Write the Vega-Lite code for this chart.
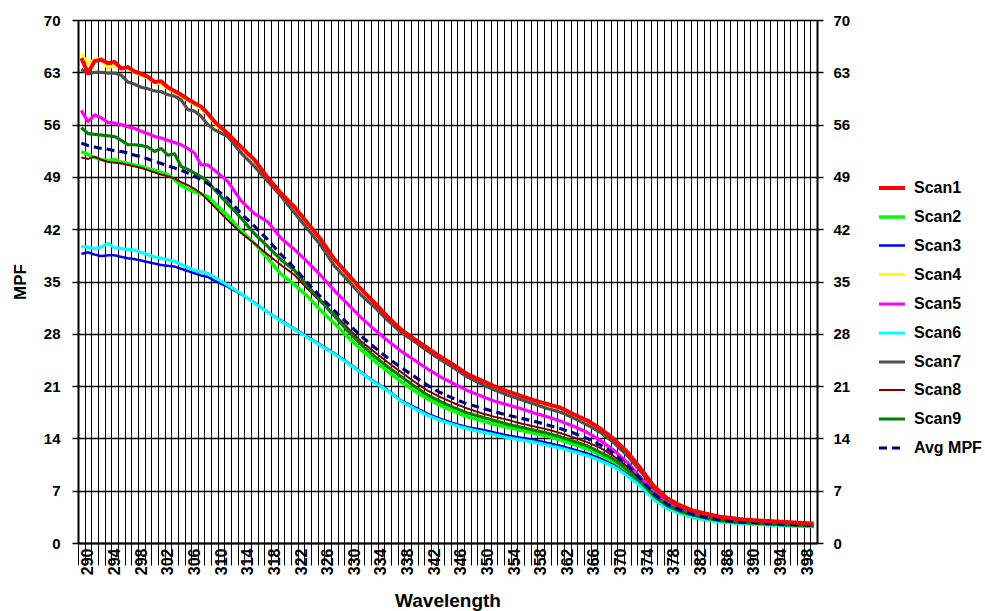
{
"$schema": "https://vega.github.io/schema/vega-lite/v6.json",
"width": 739, "height": 523,
"autosize": "none",
"padding": {"left": 78, "top": 20, "right": 168, "bottom": 68},
"background": "white",
"datasets": {"d": [
{"w":290,"s":"Scan1","v":64.9},{"w":291,"s":"Scan1","v":62.9},{"w":292,"s":"Scan1","v":64.5},{"w":293,"s":"Scan1","v":64.7},{"w":294,"s":"Scan1","v":64.2},{"w":295,"s":"Scan1","v":64.4},{"w":296,"s":"Scan1","v":63.5},{"w":297,"s":"Scan1","v":63.7},{"w":298,"s":"Scan1","v":63.1},{"w":299,"s":"Scan1","v":62.8},{"w":300,"s":"Scan1","v":62.4},{"w":301,"s":"Scan1","v":61.7},{"w":302,"s":"Scan1","v":61.8},{"w":303,"s":"Scan1","v":61.0},{"w":304,"s":"Scan1","v":60.5},{"w":305,"s":"Scan1","v":60.0},{"w":306,"s":"Scan1","v":59.4},{"w":307,"s":"Scan1","v":58.9},{"w":308,"s":"Scan1","v":58.4},{"w":309,"s":"Scan1","v":57.5},{"w":310,"s":"Scan1","v":56.4},{"w":312,"s":"Scan1","v":54.8},{"w":314,"s":"Scan1","v":53.0},{"w":316,"s":"Scan1","v":51.3},{"w":318,"s":"Scan1","v":48.9},{"w":320,"s":"Scan1","v":46.8},{"w":322,"s":"Scan1","v":45.0},{"w":324,"s":"Scan1","v":42.8},{"w":326,"s":"Scan1","v":40.6},{"w":328,"s":"Scan1","v":38.0},{"w":330,"s":"Scan1","v":36.0},{"w":332,"s":"Scan1","v":34.0},{"w":334,"s":"Scan1","v":32.2},{"w":336,"s":"Scan1","v":30.3},{"w":338,"s":"Scan1","v":28.6},{"w":340,"s":"Scan1","v":27.3},{"w":342,"s":"Scan1","v":26.1},{"w":344,"s":"Scan1","v":24.9},{"w":346,"s":"Scan1","v":23.8},{"w":348,"s":"Scan1","v":22.6},{"w":350,"s":"Scan1","v":21.8},{"w":352,"s":"Scan1","v":21.0},{"w":354,"s":"Scan1","v":20.3},{"w":356,"s":"Scan1","v":19.7},{"w":358,"s":"Scan1","v":19.1},{"w":360,"s":"Scan1","v":18.6},{"w":362,"s":"Scan1","v":18.1},{"w":364,"s":"Scan1","v":17.2},{"w":366,"s":"Scan1","v":16.4},{"w":368,"s":"Scan1","v":15.3},{"w":370,"s":"Scan1","v":13.9},{"w":372,"s":"Scan1","v":12.2},{"w":374,"s":"Scan1","v":10.0},{"w":376,"s":"Scan1","v":7.6},{"w":378,"s":"Scan1","v":6.0},{"w":380,"s":"Scan1","v":5.0},{"w":382,"s":"Scan1","v":4.3},{"w":384,"s":"Scan1","v":3.9},{"w":386,"s":"Scan1","v":3.5},{"w":388,"s":"Scan1","v":3.3},{"w":390,"s":"Scan1","v":3.1},{"w":392,"s":"Scan1","v":3.0},{"w":394,"s":"Scan1","v":2.9},{"w":396,"s":"Scan1","v":2.8},{"w":398,"s":"Scan1","v":2.7},{"w":400,"s":"Scan1","v":2.6},
{"w":290,"s":"Scan2","v":52.4},{"w":291,"s":"Scan2","v":52.0},{"w":292,"s":"Scan2","v":51.6},{"w":293,"s":"Scan2","v":51.3},{"w":294,"s":"Scan2","v":51.2},{"w":295,"s":"Scan2","v":51.3},{"w":296,"s":"Scan2","v":51.0},{"w":297,"s":"Scan2","v":50.8},{"w":298,"s":"Scan2","v":50.6},{"w":299,"s":"Scan2","v":50.4},{"w":300,"s":"Scan2","v":50.1},{"w":301,"s":"Scan2","v":49.9},{"w":302,"s":"Scan2","v":49.6},{"w":303,"s":"Scan2","v":49.3},{"w":304,"s":"Scan2","v":48.6},{"w":305,"s":"Scan2","v":47.9},{"w":306,"s":"Scan2","v":47.4},{"w":307,"s":"Scan2","v":47.0},{"w":308,"s":"Scan2","v":46.7},{"w":309,"s":"Scan2","v":46.4},{"w":310,"s":"Scan2","v":45.5},{"w":312,"s":"Scan2","v":43.8},{"w":314,"s":"Scan2","v":41.8},{"w":316,"s":"Scan2","v":40.1},{"w":318,"s":"Scan2","v":38.1},{"w":320,"s":"Scan2","v":36.0},{"w":322,"s":"Scan2","v":34.6},{"w":324,"s":"Scan2","v":33.0},{"w":326,"s":"Scan2","v":31.1},{"w":328,"s":"Scan2","v":29.4},{"w":330,"s":"Scan2","v":27.6},{"w":332,"s":"Scan2","v":25.9},{"w":334,"s":"Scan2","v":24.4},{"w":336,"s":"Scan2","v":23.0},{"w":338,"s":"Scan2","v":21.6},{"w":340,"s":"Scan2","v":20.4},{"w":342,"s":"Scan2","v":19.3},{"w":344,"s":"Scan2","v":18.4},{"w":346,"s":"Scan2","v":17.6},{"w":348,"s":"Scan2","v":16.9},{"w":350,"s":"Scan2","v":16.4},{"w":352,"s":"Scan2","v":15.9},{"w":354,"s":"Scan2","v":15.5},{"w":356,"s":"Scan2","v":15.1},{"w":358,"s":"Scan2","v":14.7},{"w":360,"s":"Scan2","v":14.3},{"w":362,"s":"Scan2","v":13.8},{"w":364,"s":"Scan2","v":13.2},{"w":366,"s":"Scan2","v":12.6},{"w":368,"s":"Scan2","v":11.8},{"w":370,"s":"Scan2","v":10.8},{"w":372,"s":"Scan2","v":9.5},{"w":374,"s":"Scan2","v":7.9},{"w":376,"s":"Scan2","v":6.0},{"w":378,"s":"Scan2","v":4.7},{"w":380,"s":"Scan2","v":4.0},{"w":382,"s":"Scan2","v":3.4},{"w":384,"s":"Scan2","v":3.1},{"w":386,"s":"Scan2","v":2.85},{"w":388,"s":"Scan2","v":2.7},{"w":390,"s":"Scan2","v":2.6},{"w":392,"s":"Scan2","v":2.5},{"w":394,"s":"Scan2","v":2.4},{"w":396,"s":"Scan2","v":2.3},{"w":398,"s":"Scan2","v":2.25},{"w":400,"s":"Scan2","v":2.2},
{"w":290,"s":"Scan3","v":38.7},{"w":291,"s":"Scan3","v":38.9},{"w":292,"s":"Scan3","v":38.6},{"w":293,"s":"Scan3","v":38.4},{"w":294,"s":"Scan3","v":38.5},{"w":295,"s":"Scan3","v":38.5},{"w":296,"s":"Scan3","v":38.3},{"w":297,"s":"Scan3","v":38.1},{"w":298,"s":"Scan3","v":38.0},{"w":299,"s":"Scan3","v":37.8},{"w":300,"s":"Scan3","v":37.6},{"w":301,"s":"Scan3","v":37.4},{"w":302,"s":"Scan3","v":37.2},{"w":303,"s":"Scan3","v":37.1},{"w":304,"s":"Scan3","v":37.0},{"w":305,"s":"Scan3","v":36.7},{"w":306,"s":"Scan3","v":36.4},{"w":307,"s":"Scan3","v":36.1},{"w":308,"s":"Scan3","v":35.8},{"w":309,"s":"Scan3","v":35.6},{"w":310,"s":"Scan3","v":35.1},{"w":312,"s":"Scan3","v":34.3},{"w":314,"s":"Scan3","v":33.3},{"w":316,"s":"Scan3","v":32.2},{"w":318,"s":"Scan3","v":30.9},{"w":320,"s":"Scan3","v":29.8},{"w":322,"s":"Scan3","v":28.7},{"w":324,"s":"Scan3","v":27.6},{"w":326,"s":"Scan3","v":26.5},{"w":328,"s":"Scan3","v":25.4},{"w":330,"s":"Scan3","v":24.2},{"w":332,"s":"Scan3","v":22.9},{"w":334,"s":"Scan3","v":21.6},{"w":336,"s":"Scan3","v":20.5},{"w":338,"s":"Scan3","v":19.1},{"w":340,"s":"Scan3","v":18.2},{"w":342,"s":"Scan3","v":17.3},{"w":344,"s":"Scan3","v":16.6},{"w":346,"s":"Scan3","v":16.0},{"w":348,"s":"Scan3","v":15.5},{"w":350,"s":"Scan3","v":15.2},{"w":352,"s":"Scan3","v":14.8},{"w":354,"s":"Scan3","v":14.4},{"w":356,"s":"Scan3","v":14.1},{"w":358,"s":"Scan3","v":13.8},{"w":360,"s":"Scan3","v":13.4},{"w":362,"s":"Scan3","v":13.0},{"w":364,"s":"Scan3","v":12.5},{"w":366,"s":"Scan3","v":12.0},{"w":368,"s":"Scan3","v":11.3},{"w":370,"s":"Scan3","v":10.4},{"w":372,"s":"Scan3","v":9.2},{"w":374,"s":"Scan3","v":7.7},{"w":376,"s":"Scan3","v":5.9},{"w":378,"s":"Scan3","v":4.7},{"w":380,"s":"Scan3","v":4.0},{"w":382,"s":"Scan3","v":3.5},{"w":384,"s":"Scan3","v":3.15},{"w":386,"s":"Scan3","v":2.9},{"w":388,"s":"Scan3","v":2.75},{"w":390,"s":"Scan3","v":2.65},{"w":392,"s":"Scan3","v":2.55},{"w":394,"s":"Scan3","v":2.45},{"w":396,"s":"Scan3","v":2.4},{"w":398,"s":"Scan3","v":2.3},{"w":400,"s":"Scan3","v":2.25},
{"w":290,"s":"Scan4","v":65.5},{"w":291,"s":"Scan4","v":64.2},{"w":292,"s":"Scan4","v":64.7},{"w":293,"s":"Scan4","v":64.9},{"w":294,"s":"Scan4","v":63.5},{"w":295,"s":"Scan4","v":64.0},{"w":296,"s":"Scan4","v":63.6},{"w":297,"s":"Scan4","v":63.5},{"w":298,"s":"Scan4","v":63.0},{"w":299,"s":"Scan4","v":62.6},{"w":300,"s":"Scan4","v":62.2},{"w":301,"s":"Scan4","v":61.6},{"w":302,"s":"Scan4","v":61.5},{"w":303,"s":"Scan4","v":60.8},{"w":304,"s":"Scan4","v":60.3},{"w":305,"s":"Scan4","v":59.8},{"w":306,"s":"Scan4","v":59.2},{"w":307,"s":"Scan4","v":58.7},{"w":308,"s":"Scan4","v":58.1},{"w":309,"s":"Scan4","v":57.3},{"w":310,"s":"Scan4","v":56.2},{"w":312,"s":"Scan4","v":54.6},{"w":314,"s":"Scan4","v":52.8},{"w":316,"s":"Scan4","v":51.0},{"w":318,"s":"Scan4","v":48.7},{"w":320,"s":"Scan4","v":46.6},{"w":322,"s":"Scan4","v":44.8},{"w":324,"s":"Scan4","v":42.6},{"w":326,"s":"Scan4","v":40.4},{"w":328,"s":"Scan4","v":37.8},{"w":330,"s":"Scan4","v":35.8},{"w":332,"s":"Scan4","v":33.8},{"w":334,"s":"Scan4","v":32.0},{"w":336,"s":"Scan4","v":30.1},{"w":338,"s":"Scan4","v":28.4},{"w":340,"s":"Scan4","v":27.1},{"w":342,"s":"Scan4","v":25.9},{"w":344,"s":"Scan4","v":24.7},{"w":346,"s":"Scan4","v":23.6},{"w":348,"s":"Scan4","v":22.5},{"w":350,"s":"Scan4","v":21.7},{"w":352,"s":"Scan4","v":20.9},{"w":354,"s":"Scan4","v":20.2},{"w":356,"s":"Scan4","v":19.6},{"w":358,"s":"Scan4","v":19.0},{"w":360,"s":"Scan4","v":18.5},{"w":362,"s":"Scan4","v":18.0},{"w":364,"s":"Scan4","v":17.1},{"w":366,"s":"Scan4","v":16.3},{"w":368,"s":"Scan4","v":15.2},{"w":370,"s":"Scan4","v":13.8},{"w":372,"s":"Scan4","v":12.1},{"w":374,"s":"Scan4","v":9.9},{"w":376,"s":"Scan4","v":7.5},{"w":378,"s":"Scan4","v":5.9},{"w":380,"s":"Scan4","v":4.95},{"w":382,"s":"Scan4","v":4.3},{"w":384,"s":"Scan4","v":3.9},{"w":386,"s":"Scan4","v":3.5},{"w":388,"s":"Scan4","v":3.3},{"w":390,"s":"Scan4","v":3.1},{"w":392,"s":"Scan4","v":3.0},{"w":394,"s":"Scan4","v":2.9},{"w":396,"s":"Scan4","v":2.8},{"w":398,"s":"Scan4","v":2.7},{"w":400,"s":"Scan4","v":2.6},
{"w":290,"s":"Scan5","v":57.9},{"w":291,"s":"Scan5","v":56.4},{"w":292,"s":"Scan5","v":57.3},{"w":293,"s":"Scan5","v":56.9},{"w":294,"s":"Scan5","v":56.3},{"w":295,"s":"Scan5","v":56.2},{"w":296,"s":"Scan5","v":56.0},{"w":297,"s":"Scan5","v":55.7},{"w":298,"s":"Scan5","v":55.5},{"w":299,"s":"Scan5","v":55.1},{"w":300,"s":"Scan5","v":54.8},{"w":301,"s":"Scan5","v":54.4},{"w":302,"s":"Scan5","v":54.2},{"w":303,"s":"Scan5","v":53.9},{"w":304,"s":"Scan5","v":53.6},{"w":305,"s":"Scan5","v":53.3},{"w":306,"s":"Scan5","v":52.8},{"w":307,"s":"Scan5","v":52.2},{"w":308,"s":"Scan5","v":50.6},{"w":309,"s":"Scan5","v":50.6},{"w":310,"s":"Scan5","v":49.9},{"w":312,"s":"Scan5","v":48.4},{"w":314,"s":"Scan5","v":45.8},{"w":316,"s":"Scan5","v":44.1},{"w":318,"s":"Scan5","v":43.0},{"w":320,"s":"Scan5","v":40.8},{"w":322,"s":"Scan5","v":39.3},{"w":324,"s":"Scan5","v":37.6},{"w":326,"s":"Scan5","v":35.8},{"w":328,"s":"Scan5","v":33.8},{"w":330,"s":"Scan5","v":32.0},{"w":332,"s":"Scan5","v":30.2},{"w":334,"s":"Scan5","v":28.6},{"w":336,"s":"Scan5","v":27.1},{"w":338,"s":"Scan5","v":25.7},{"w":340,"s":"Scan5","v":24.5},{"w":342,"s":"Scan5","v":23.3},{"w":344,"s":"Scan5","v":22.2},{"w":346,"s":"Scan5","v":21.3},{"w":348,"s":"Scan5","v":20.4},{"w":350,"s":"Scan5","v":19.7},{"w":352,"s":"Scan5","v":19.0},{"w":354,"s":"Scan5","v":18.5},{"w":356,"s":"Scan5","v":18.0},{"w":358,"s":"Scan5","v":17.4},{"w":360,"s":"Scan5","v":16.9},{"w":362,"s":"Scan5","v":16.3},{"w":364,"s":"Scan5","v":15.6},{"w":366,"s":"Scan5","v":14.8},{"w":368,"s":"Scan5","v":13.7},{"w":370,"s":"Scan5","v":12.4},{"w":372,"s":"Scan5","v":10.8},{"w":374,"s":"Scan5","v":8.8},{"w":376,"s":"Scan5","v":6.8},{"w":378,"s":"Scan5","v":5.4},{"w":380,"s":"Scan5","v":4.5},{"w":382,"s":"Scan5","v":4.0},{"w":384,"s":"Scan5","v":3.6},{"w":386,"s":"Scan5","v":3.3},{"w":388,"s":"Scan5","v":3.1},{"w":390,"s":"Scan5","v":2.9},{"w":392,"s":"Scan5","v":2.8},{"w":394,"s":"Scan5","v":2.7},{"w":396,"s":"Scan5","v":2.6},{"w":398,"s":"Scan5","v":2.5},{"w":400,"s":"Scan5","v":2.4},
{"w":290,"s":"Scan6","v":39.7},{"w":291,"s":"Scan6","v":39.6},{"w":292,"s":"Scan6","v":39.4},{"w":293,"s":"Scan6","v":39.6},{"w":294,"s":"Scan6","v":40.1},{"w":295,"s":"Scan6","v":39.5},{"w":296,"s":"Scan6","v":39.4},{"w":297,"s":"Scan6","v":39.3},{"w":298,"s":"Scan6","v":39.2},{"w":299,"s":"Scan6","v":38.9},{"w":300,"s":"Scan6","v":38.6},{"w":301,"s":"Scan6","v":38.3},{"w":302,"s":"Scan6","v":38.1},{"w":303,"s":"Scan6","v":37.9},{"w":304,"s":"Scan6","v":37.7},{"w":305,"s":"Scan6","v":37.3},{"w":306,"s":"Scan6","v":36.9},{"w":307,"s":"Scan6","v":36.5},{"w":308,"s":"Scan6","v":36.3},{"w":309,"s":"Scan6","v":36.1},{"w":310,"s":"Scan6","v":35.6},{"w":312,"s":"Scan6","v":34.5},{"w":314,"s":"Scan6","v":33.4},{"w":316,"s":"Scan6","v":32.1},{"w":318,"s":"Scan6","v":30.9},{"w":320,"s":"Scan6","v":29.7},{"w":322,"s":"Scan6","v":28.6},{"w":324,"s":"Scan6","v":27.5},{"w":326,"s":"Scan6","v":26.4},{"w":328,"s":"Scan6","v":25.3},{"w":330,"s":"Scan6","v":24.1},{"w":332,"s":"Scan6","v":22.8},{"w":334,"s":"Scan6","v":21.5},{"w":336,"s":"Scan6","v":20.4},{"w":338,"s":"Scan6","v":19.0},{"w":340,"s":"Scan6","v":18.0},{"w":342,"s":"Scan6","v":17.1},{"w":344,"s":"Scan6","v":16.4},{"w":346,"s":"Scan6","v":15.8},{"w":348,"s":"Scan6","v":15.3},{"w":350,"s":"Scan6","v":14.9},{"w":352,"s":"Scan6","v":14.5},{"w":354,"s":"Scan6","v":14.1},{"w":356,"s":"Scan6","v":13.8},{"w":358,"s":"Scan6","v":13.5},{"w":360,"s":"Scan6","v":13.1},{"w":362,"s":"Scan6","v":12.7},{"w":364,"s":"Scan6","v":12.2},{"w":366,"s":"Scan6","v":11.7},{"w":368,"s":"Scan6","v":11.0},{"w":370,"s":"Scan6","v":10.2},{"w":372,"s":"Scan6","v":9.0},{"w":374,"s":"Scan6","v":7.6},{"w":376,"s":"Scan6","v":5.8},{"w":378,"s":"Scan6","v":4.6},{"w":380,"s":"Scan6","v":3.95},{"w":382,"s":"Scan6","v":3.45},{"w":384,"s":"Scan6","v":3.1},{"w":386,"s":"Scan6","v":2.85},{"w":388,"s":"Scan6","v":2.7},{"w":390,"s":"Scan6","v":2.6},{"w":392,"s":"Scan6","v":2.5},{"w":394,"s":"Scan6","v":2.4},{"w":396,"s":"Scan6","v":2.35},{"w":398,"s":"Scan6","v":2.3},{"w":400,"s":"Scan6","v":2.25},
{"w":290,"s":"Scan7","v":63.4},{"w":291,"s":"Scan7","v":62.8},{"w":292,"s":"Scan7","v":63.0},{"w":293,"s":"Scan7","v":63.0},{"w":294,"s":"Scan7","v":62.9},{"w":295,"s":"Scan7","v":62.9},{"w":296,"s":"Scan7","v":62.6},{"w":297,"s":"Scan7","v":61.7},{"w":298,"s":"Scan7","v":61.4},{"w":299,"s":"Scan7","v":61.0},{"w":300,"s":"Scan7","v":60.8},{"w":301,"s":"Scan7","v":60.5},{"w":302,"s":"Scan7","v":60.4},{"w":303,"s":"Scan7","v":60.0},{"w":304,"s":"Scan7","v":59.8},{"w":305,"s":"Scan7","v":59.3},{"w":306,"s":"Scan7","v":58.0},{"w":307,"s":"Scan7","v":57.8},{"w":308,"s":"Scan7","v":57.1},{"w":309,"s":"Scan7","v":56.0},{"w":310,"s":"Scan7","v":55.3},{"w":312,"s":"Scan7","v":54.4},{"w":314,"s":"Scan7","v":52.2},{"w":316,"s":"Scan7","v":50.4},{"w":318,"s":"Scan7","v":48.4},{"w":320,"s":"Scan7","v":46.4},{"w":322,"s":"Scan7","v":44.2},{"w":324,"s":"Scan7","v":42.0},{"w":326,"s":"Scan7","v":39.8},{"w":328,"s":"Scan7","v":37.1},{"w":330,"s":"Scan7","v":35.2},{"w":332,"s":"Scan7","v":33.2},{"w":334,"s":"Scan7","v":31.6},{"w":336,"s":"Scan7","v":29.8},{"w":338,"s":"Scan7","v":28.2},{"w":340,"s":"Scan7","v":27.0},{"w":342,"s":"Scan7","v":25.7},{"w":344,"s":"Scan7","v":24.5},{"w":346,"s":"Scan7","v":23.4},{"w":348,"s":"Scan7","v":22.2},{"w":350,"s":"Scan7","v":21.3},{"w":352,"s":"Scan7","v":20.5},{"w":354,"s":"Scan7","v":19.8},{"w":356,"s":"Scan7","v":19.2},{"w":358,"s":"Scan7","v":18.6},{"w":360,"s":"Scan7","v":18.0},{"w":362,"s":"Scan7","v":17.5},{"w":364,"s":"Scan7","v":16.7},{"w":366,"s":"Scan7","v":15.8},{"w":368,"s":"Scan7","v":14.8},{"w":370,"s":"Scan7","v":13.4},{"w":372,"s":"Scan7","v":11.7},{"w":374,"s":"Scan7","v":9.6},{"w":376,"s":"Scan7","v":7.3},{"w":378,"s":"Scan7","v":5.8},{"w":380,"s":"Scan7","v":4.8},{"w":382,"s":"Scan7","v":4.2},{"w":384,"s":"Scan7","v":3.8},{"w":386,"s":"Scan7","v":3.4},{"w":388,"s":"Scan7","v":3.2},{"w":390,"s":"Scan7","v":3.0},{"w":392,"s":"Scan7","v":2.9},{"w":394,"s":"Scan7","v":2.8},{"w":396,"s":"Scan7","v":2.7},{"w":398,"s":"Scan7","v":2.6},{"w":400,"s":"Scan7","v":2.5},
{"w":290,"s":"Scan8","v":51.6},{"w":291,"s":"Scan8","v":51.4},{"w":292,"s":"Scan8","v":51.7},{"w":293,"s":"Scan8","v":51.3},{"w":294,"s":"Scan8","v":51.0},{"w":295,"s":"Scan8","v":50.9},{"w":296,"s":"Scan8","v":50.8},{"w":297,"s":"Scan8","v":50.6},{"w":298,"s":"Scan8","v":50.4},{"w":299,"s":"Scan8","v":50.2},{"w":300,"s":"Scan8","v":49.9},{"w":301,"s":"Scan8","v":49.6},{"w":302,"s":"Scan8","v":49.3},{"w":303,"s":"Scan8","v":49.1},{"w":304,"s":"Scan8","v":48.8},{"w":305,"s":"Scan8","v":48.3},{"w":306,"s":"Scan8","v":47.9},{"w":307,"s":"Scan8","v":47.4},{"w":308,"s":"Scan8","v":46.8},{"w":309,"s":"Scan8","v":45.9},{"w":310,"s":"Scan8","v":45.0},{"w":312,"s":"Scan8","v":43.2},{"w":314,"s":"Scan8","v":41.5},{"w":316,"s":"Scan8","v":40.1},{"w":318,"s":"Scan8","v":38.6},{"w":320,"s":"Scan8","v":37.2},{"w":322,"s":"Scan8","v":35.9},{"w":324,"s":"Scan8","v":34.0},{"w":326,"s":"Scan8","v":32.2},{"w":328,"s":"Scan8","v":30.6},{"w":330,"s":"Scan8","v":28.8},{"w":332,"s":"Scan8","v":27.0},{"w":334,"s":"Scan8","v":25.6},{"w":336,"s":"Scan8","v":24.2},{"w":338,"s":"Scan8","v":22.9},{"w":340,"s":"Scan8","v":21.6},{"w":342,"s":"Scan8","v":20.4},{"w":344,"s":"Scan8","v":19.5},{"w":346,"s":"Scan8","v":18.7},{"w":348,"s":"Scan8","v":18.0},{"w":350,"s":"Scan8","v":17.4},{"w":352,"s":"Scan8","v":16.9},{"w":354,"s":"Scan8","v":16.5},{"w":356,"s":"Scan8","v":16.0},{"w":358,"s":"Scan8","v":15.6},{"w":360,"s":"Scan8","v":15.2},{"w":362,"s":"Scan8","v":14.7},{"w":364,"s":"Scan8","v":14.1},{"w":366,"s":"Scan8","v":13.5},{"w":368,"s":"Scan8","v":12.7},{"w":370,"s":"Scan8","v":11.6},{"w":372,"s":"Scan8","v":10.2},{"w":374,"s":"Scan8","v":8.4},{"w":376,"s":"Scan8","v":6.5},{"w":378,"s":"Scan8","v":5.1},{"w":380,"s":"Scan8","v":4.3},{"w":382,"s":"Scan8","v":3.7},{"w":384,"s":"Scan8","v":3.3},{"w":386,"s":"Scan8","v":3.0},{"w":388,"s":"Scan8","v":2.85},{"w":390,"s":"Scan8","v":2.75},{"w":392,"s":"Scan8","v":2.65},{"w":394,"s":"Scan8","v":2.55},{"w":396,"s":"Scan8","v":2.45},{"w":398,"s":"Scan8","v":2.4},{"w":400,"s":"Scan8","v":2.35},
{"w":290,"s":"Scan9","v":55.6},{"w":291,"s":"Scan9","v":54.8},{"w":292,"s":"Scan9","v":54.7},{"w":293,"s":"Scan9","v":54.6},{"w":294,"s":"Scan9","v":54.5},{"w":295,"s":"Scan9","v":54.4},{"w":296,"s":"Scan9","v":53.9},{"w":297,"s":"Scan9","v":53.3},{"w":298,"s":"Scan9","v":53.3},{"w":299,"s":"Scan9","v":53.2},{"w":300,"s":"Scan9","v":53.0},{"w":301,"s":"Scan9","v":52.4},{"w":302,"s":"Scan9","v":52.8},{"w":303,"s":"Scan9","v":51.9},{"w":304,"s":"Scan9","v":52.1},{"w":305,"s":"Scan9","v":50.4},{"w":306,"s":"Scan9","v":50.0},{"w":307,"s":"Scan9","v":49.5},{"w":308,"s":"Scan9","v":49.0},{"w":309,"s":"Scan9","v":48.4},{"w":310,"s":"Scan9","v":47.3},{"w":312,"s":"Scan9","v":45.4},{"w":314,"s":"Scan9","v":43.5},{"w":316,"s":"Scan9","v":41.4},{"w":318,"s":"Scan9","v":39.7},{"w":320,"s":"Scan9","v":37.9},{"w":322,"s":"Scan9","v":36.5},{"w":324,"s":"Scan9","v":34.4},{"w":326,"s":"Scan9","v":32.4},{"w":328,"s":"Scan9","v":30.4},{"w":330,"s":"Scan9","v":28.4},{"w":332,"s":"Scan9","v":26.6},{"w":334,"s":"Scan9","v":25.0},{"w":336,"s":"Scan9","v":23.6},{"w":338,"s":"Scan9","v":22.3},{"w":340,"s":"Scan9","v":21.0},{"w":342,"s":"Scan9","v":19.8},{"w":344,"s":"Scan9","v":18.9},{"w":346,"s":"Scan9","v":18.1},{"w":348,"s":"Scan9","v":17.4},{"w":350,"s":"Scan9","v":16.9},{"w":352,"s":"Scan9","v":16.4},{"w":354,"s":"Scan9","v":15.9},{"w":356,"s":"Scan9","v":15.5},{"w":358,"s":"Scan9","v":15.1},{"w":360,"s":"Scan9","v":14.7},{"w":362,"s":"Scan9","v":14.2},{"w":364,"s":"Scan9","v":13.6},{"w":366,"s":"Scan9","v":13.0},{"w":368,"s":"Scan9","v":12.1},{"w":370,"s":"Scan9","v":11.2},{"w":372,"s":"Scan9","v":9.8},{"w":374,"s":"Scan9","v":8.2},{"w":376,"s":"Scan9","v":6.3},{"w":378,"s":"Scan9","v":5.0},{"w":380,"s":"Scan9","v":4.2},{"w":382,"s":"Scan9","v":3.7},{"w":384,"s":"Scan9","v":3.3},{"w":386,"s":"Scan9","v":3.0},{"w":388,"s":"Scan9","v":2.8},{"w":390,"s":"Scan9","v":2.7},{"w":392,"s":"Scan9","v":2.6},{"w":394,"s":"Scan9","v":2.5},{"w":396,"s":"Scan9","v":2.4},{"w":398,"s":"Scan9","v":2.35},{"w":400,"s":"Scan9","v":2.3},
{"w":290,"s":"Avg MPF","v":53.5},{"w":291,"s":"Avg MPF","v":53.2},{"w":292,"s":"Avg MPF","v":53.0},{"w":293,"s":"Avg MPF","v":52.8},{"w":294,"s":"Avg MPF","v":52.7},{"w":295,"s":"Avg MPF","v":52.5},{"w":296,"s":"Avg MPF","v":52.4},{"w":297,"s":"Avg MPF","v":52.2},{"w":298,"s":"Avg MPF","v":51.9},{"w":299,"s":"Avg MPF","v":51.7},{"w":300,"s":"Avg MPF","v":51.4},{"w":301,"s":"Avg MPF","v":51.1},{"w":302,"s":"Avg MPF","v":50.8},{"w":303,"s":"Avg MPF","v":50.5},{"w":304,"s":"Avg MPF","v":50.2},{"w":305,"s":"Avg MPF","v":49.9},{"w":306,"s":"Avg MPF","v":49.5},{"w":307,"s":"Avg MPF","v":49.1},{"w":308,"s":"Avg MPF","v":48.6},{"w":309,"s":"Avg MPF","v":48.1},{"w":310,"s":"Avg MPF","v":47.5},{"w":312,"s":"Avg MPF","v":46.1},{"w":314,"s":"Avg MPF","v":44.1},{"w":316,"s":"Avg MPF","v":42.4},{"w":318,"s":"Avg MPF","v":40.6},{"w":320,"s":"Avg MPF","v":38.6},{"w":322,"s":"Avg MPF","v":36.8},{"w":324,"s":"Avg MPF","v":34.8},{"w":326,"s":"Avg MPF","v":32.9},{"w":328,"s":"Avg MPF","v":31.1},{"w":330,"s":"Avg MPF","v":29.4},{"w":332,"s":"Avg MPF","v":27.7},{"w":334,"s":"Avg MPF","v":26.2},{"w":336,"s":"Avg MPF","v":24.8},{"w":338,"s":"Avg MPF","v":23.5},{"w":340,"s":"Avg MPF","v":22.3},{"w":342,"s":"Avg MPF","v":21.1},{"w":344,"s":"Avg MPF","v":20.1},{"w":346,"s":"Avg MPF","v":19.3},{"w":348,"s":"Avg MPF","v":18.6},{"w":350,"s":"Avg MPF","v":18.1},{"w":352,"s":"Avg MPF","v":17.6},{"w":354,"s":"Avg MPF","v":17.1},{"w":356,"s":"Avg MPF","v":16.7},{"w":358,"s":"Avg MPF","v":16.3},{"w":360,"s":"Avg MPF","v":15.8},{"w":362,"s":"Avg MPF","v":15.3},{"w":364,"s":"Avg MPF","v":14.7},{"w":366,"s":"Avg MPF","v":14.0},{"w":368,"s":"Avg MPF","v":13.1},{"w":370,"s":"Avg MPF","v":12.0},{"w":372,"s":"Avg MPF","v":10.5},{"w":374,"s":"Avg MPF","v":8.6},{"w":376,"s":"Avg MPF","v":6.6},{"w":378,"s":"Avg MPF","v":5.2},{"w":380,"s":"Avg MPF","v":4.4},{"w":382,"s":"Avg MPF","v":3.8},{"w":384,"s":"Avg MPF","v":3.4},{"w":386,"s":"Avg MPF","v":3.1},{"w":388,"s":"Avg MPF","v":2.9},{"w":390,"s":"Avg MPF","v":2.8},{"w":392,"s":"Avg MPF","v":2.7},{"w":394,"s":"Avg MPF","v":2.6},{"w":396,"s":"Avg MPF","v":2.5},{"w":398,"s":"Avg MPF","v":2.45},{"w":400,"s":"Avg MPF","v":2.4}
]},
"data": {"name": "d"},
"encoding": {
  "x": {"field": "w", "type": "quantitative",
    "scale": {"domain": [289.5, 400.5], "nice": false, "zero": false},
    "axis": {"title": "Wavelength", "tickCount": 111,
      "labelExpr": "(datum.value - 290) % 4 == 0 ? datum.label : ''",
      "labelAngle": 270, "labelAlign": "right", "labelBaseline": "middle",
      "labelOffset": 10, "tickOffset": -3.33, "labelPadding": -17,
      "labelFlush": false, "labelOverlap": false, "labelBound": false,
      "labelFont": "Liberation Sans", "labelFontWeight": "bold", "labelFontSize": 16, "labelColor": "black",
      "tickColor": "black", "tickSize": 22, "tickWidth": 1,
      "grid": true, "gridColor": "black", "gridWidth": 1, "gridOpacity": 1,
      "domainColor": "black", "domainWidth": 2,
      "titleFont": "Liberation Sans", "titleFontWeight": "bold", "titleFontSize": 19, "titleColor": "black", "titlePadding": 17}},
  "color": {"field": "s", "type": "nominal",
    "scale": {"domain": ["Scan1","Scan2","Scan3","Scan4","Scan5","Scan6","Scan7","Scan8","Scan9","Avg MPF"],
      "range": ["#FF0000","#00FF00","#0000FF","#FFFF00","#FF00FF","#00FFFF","#505050","#800000","#008000","#000080"]},
    "legend": {"title": null}},
  "strokeDash": {"field": "s", "type": "nominal",
    "scale": {"domain": ["Scan1","Scan2","Scan3","Scan4","Scan5","Scan6","Scan7","Scan8","Scan9","Avg MPF"],
      "range": [[1,0],[1,0],[1,0],[1,0],[1,0],[1,0],[1,0],[1,0],[1,0],[8,5]]},
    "legend": {"title": null}},
  "strokeWidth": {"field": "s", "type": "nominal",
    "scale": {"type": "ordinal", "domain": ["Scan1","Scan2","Scan3","Scan4","Scan5","Scan6","Scan7","Scan8","Scan9","Avg MPF"],
      "range": [4,3.5,2.5,3,3.2,3.2,3.2,2,3.2,3.2]},
    "legend": {"title": null}}
},
"layer": [
  {"transform": [{"filter": "datum.s != 'Scan1'"}],
   "mark": {"type": "line", "strokeJoin": "round"},
   "encoding": {"y": {"field": "v", "type": "quantitative",
     "scale": {"domain": [0, 70], "nice": false},
     "axis": {"orient": "left", "title": "MPF", "values": [0,7,14,21,28,35,42,49,56,63,70],
       "grid": true, "gridColor": "black", "gridWidth": 1.5, "gridOpacity": 1,
       "tickColor": "black", "tickSize": 6, "tickWidth": 1.5, "domainColor": "black", "domainWidth": 2,
       "labelPadding": 12, "labelFont": "Liberation Sans", "labelFontWeight": "bold", "labelFontSize": 15, "labelColor": "black",
       "titleFont": "Liberation Sans", "titleFontWeight": "bold", "titleFontSize": 17, "titleColor": "black", "titlePadding": 14}}}},
  {"transform": [{"filter": "datum.s == 'Scan1'"}],
   "mark": {"type": "line", "strokeJoin": "round"},
   "encoding": {"y": {"field": "v", "type": "quantitative",
     "scale": {"domain": [0, 70], "nice": false},
     "axis": {"orient": "right", "title": null, "values": [0,7,14,21,28,35,42,49,56,63,70],
       "grid": false, "tickColor": "black", "tickSize": 6, "tickWidth": 1.5, "domainColor": "black", "domainWidth": 2,
       "labelPadding": 10, "labelFont": "Liberation Sans", "labelFontWeight": "bold", "labelFontSize": 15, "labelColor": "black"}}}}
],
"resolve": {"scale": {"y": "independent"}},
"config": {"view": {"stroke": null}, "font": "Liberation Sans",
  "legend": {"orient": "none", "legendX": 799, "legendY": 153, "symbolType": "stroke", "symbolSize": 676,
    "symbolStrokeWidth": 4, "labelFont": "Liberation Sans", "labelFontWeight": "bold", "labelFontSize": 16,
    "labelColor": "black", "labelOffset": 7, "rowPadding": 6, "padding": 0}}
}
